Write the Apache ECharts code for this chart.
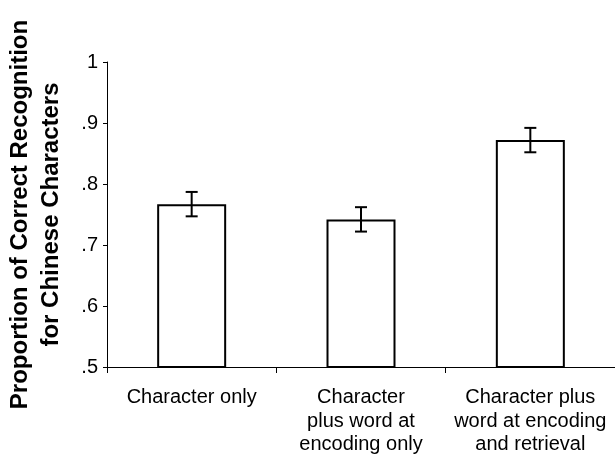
<!DOCTYPE html>
<html>
<head>
<meta charset="utf-8">
<script src="https://cdn.jsdelivr.net/npm/echarts@6/dist/echarts.min.js"></script>
<style>html,body{margin:0;padding:0;background:#fff}#c{width:615px;height:460px}</style>
</head>
<body>
<div id="c"></div>
<script>
const categories = ["Character only", "Character\nplus word at\nencoding only", "Character plus\nword at encoding\nand retrieval"];
const means = [0.767, 0.742, 0.872];
const errors = [0.020, 0.020, 0.020];
const yTicks = [0.5, 0.6, 0.7, 0.8, 0.9, 1];
const yTitle = "Proportion of Correct Recognition\nfor Chinese Characters";

const chart = echarts.init(document.getElementById('c'), null, {renderer: 'canvas'});
const font = '"Liberation Sans", Arial, sans-serif';
chart.setOption({
  animation: false,
  grid: {left: 107, right: 0, top: 62, bottom: 93, containLabel: false, outerBoundsMode: 'none'},
  xAxis: {
    type: 'category',
    data: categories,
    axisLine: {lineStyle: {color: '#000', width: 1}},
    axisTick: {show: true, length: 6, lineStyle: {color: '#000'}},
    axisLabel: {color: '#000', fontSize: 20, fontFamily: font, lineHeight: 23.5, margin: 19, interval: 0}
  },
  yAxis: {
    type: 'value',
    min: 0.5, max: 1, interval: 0.1,
    name: yTitle,
    nameLocation: 'middle',
    nameRotate: 90,
    nameGap: 40,
    nameTextStyle: {color: '#000', fontSize: 24, fontWeight: 'bold', fontFamily: font, lineHeight: 31},
    splitLine: {show: false},
    axisLine: {show: true, lineStyle: {color: '#000', width: 1}},
    axisTick: {show: true, length: 4, lineStyle: {color: '#000'}},
    axisLabel: {
      color: '#000', fontSize: 20, fontFamily: font, margin: 9,
      formatter: function (v) {
        const t = yTicks.find(x => Math.abs(x - v) < 1e-9);
        if (t === undefined) return '';
        return t === 1 ? '1' : String(t).replace(/^0/, '');
      }
    }
  },
  series: [
    {
      type: 'bar',
      data: means,
      barWidth: 69,
      itemStyle: {color: '#fff', borderColor: '#000', borderWidth: 2},
      z: 2
    },
    {
      type: 'custom',
      data: means.map((m, i) => [i, m - errors[i], m + errors[i]]),
      renderItem: function (params, api) {
        const x = api.coord([api.value(0), 0])[0];
        const lo = api.coord([api.value(0), api.value(1)])[1];
        const hi = api.coord([api.value(0), api.value(2)])[1];
        const hw = 6;
        const style = {stroke: '#000', lineWidth: 2};
        return {
          type: 'group',
          children: [
            {type: 'line', shape: {x1: x, y1: lo, x2: x, y2: hi}, style: style},
            {type: 'line', shape: {x1: x - hw, y1: hi, x2: x + hw, y2: hi}, style: style},
            {type: 'line', shape: {x1: x - hw, y1: lo, x2: x + hw, y2: lo}, style: style}
          ]
        };
      },
      z: 3
    }
  ]
});
</script>
</body>
</html>
